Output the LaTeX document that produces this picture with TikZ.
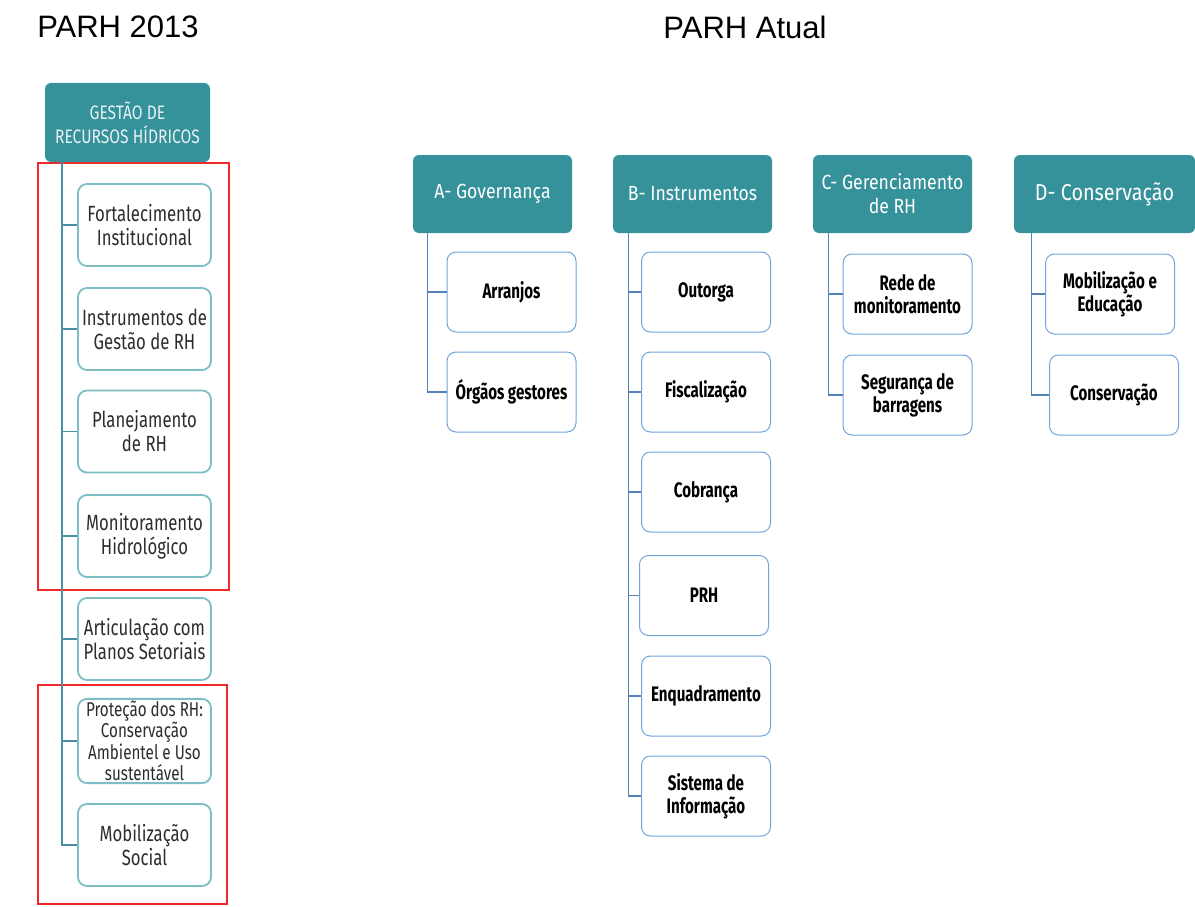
\documentclass[tikz,border=0pt]{standalone}
\usepackage{fontspec}
\setmainfont{Liberation Sans}
\newfontfamily\hdrfont[FakeStretch=0.86]{Fira Sans}
\newfontfamily\lhdrfont[FakeStretch=0.8]{Fira Sans}
\newfontfamily\lfont[FakeStretch=0.76]{Fira Sans}
\newfontfamily\condb[FakeStretch=0.72]{Fira Sans}
\definecolor{teal}{RGB}{53,145,154}
\definecolor{lborder}{RGB}{125,190,197}
\definecolor{lline}{RGB}{70,145,165}
\definecolor{rborder}{RGB}{115,165,220}
\definecolor{rline}{RGB}{85,130,185}
\definecolor{redbox}{RGB}{240,40,40}
\definecolor{txtgray}{RGB}{45,45,45}
\tikzset{
  title/.style={font=\fontsize{31}{33}\selectfont, text=black, inner sep=0pt},
  hdr/.style={fill=teal, rounded corners=6pt, text=white, align=center,
    font=\hdrfont\fontsize{20.5}{24}\selectfont, minimum width=159pt, minimum height=78pt, inner sep=2pt},
  lhdr/.style={fill=teal, rounded corners=6pt, text=white!88!teal, align=center,
    font=\lhdrfont\fontsize{19.5}{24}\selectfont, minimum width=165pt, minimum height=79pt, inner sep=2pt},
  lbox/.style={draw=lborder, line width=1.8pt, rounded corners=9pt, fill=white,
    minimum width=133pt, minimum height=82pt, align=center, text=txtgray,
    font=\lfont\fontsize{22}{24}\selectfont, inner sep=2pt},
  rbox/.style={draw=rborder, line width=1pt, rounded corners=9pt, fill=white,
    minimum width=129pt, minimum height=80pt, align=center, text=black,
    font=\condb\bfseries\fontsize{21}{23}\selectfont, inner sep=2pt},
  lconn/.style={draw=lline, line width=1.5pt},
  rconn/.style={draw=rline, line width=1.2pt},
  redframe/.style={draw=redbox, line width=1.6pt},
}
\begin{document}
\begin{tikzpicture}[x=1pt,y=-1pt]
\useasboundingbox (0,0) rectangle (1195,907);
% titles
\node[title] (t1) at (118,27) {PARH 2013};
\node[title] (t2) at (745,27) {PARH Atual};
% red frames
\draw[redframe] (38,163) rectangle (229,590);
\draw[redframe] (38,685) rectangle (227,904);
% left column
\node[lhdr] (G) at (127.5,122.5) {GESTÃO DE\\RECURSOS HÍDRICOS};
\node[lbox] (l1) at (144.5,225) {Fortalecimento\\Institucional};
\node[lbox] (l2) at (144.5,329) {Instrumentos de\\Gestão de RH};
\node[lbox] (l3) at (144.5,431.5) {Planejamento\\de RH};
\node[lbox] (l4) at (144.5,536) {Monitoramento\\Hidrológico};
\node[lbox] (l5) at (144.5,639) {Articulação com\\Planos Setoriais};
\node[lbox, font=\lfont\fontsize{20}{21.5}\selectfont] (l6) at (144.5,741) {Proteção dos RH:\\Conservação\\Ambientel e Uso\\sustentável};
\node[lbox] (l7) at (144.5,845) {Mobilização\\Social};
\foreach \n in {l1,l2,l3,l4,l5,l6,l7}{
  \draw[lconn] ([xshift=17pt]G.south west) |- (\n.west);
}
% right headers
\node[hdr] (A) at (492.5,194) {A- Governança};
\node[hdr] (B) at (692.5,194) {B- Instrumentos};
\node[hdr] (C) at (892.5,194) {C- Gerenciamento\\de RH};
\node[hdr, minimum width=181pt, font=\hdrfont\fontsize{23}{26}\selectfont] (D) at (1104.5,194) {D- Conservação};
% A children
\node[rbox] (a1) at (511.5,292) {Arranjos};
\node[rbox] (a2) at (511.5,392) {Órgãos gestores};
% B children
\node[rbox] (b1) at (706,292) {Outorga};
\node[rbox] (b2) at (706,392) {Fiscalização};
\node[rbox] (b3) at (706,492) {Cobrança};
\node[rbox] (b4) at (704,595.5) {PRH};
\node[rbox] (b5) at (706,696) {Enquadramento};
\node[rbox] (b6) at (706,796) {Sistema de\\Informação};
% C children
\node[rbox] (c1) at (907.5,294) {Rede de\\monitoramento};
\node[rbox] (c2) at (907.5,395) {Segurança de\\barragens};
% D children
\node[rbox] (d1) at (1110,294) {Mobilização e\\Educação};
\node[rbox] (d2) at (1114,395) {Conservação};
% connectors
\foreach \n in {a1,a2}{\draw[rconn] ([xshift=15pt]A.south west) |- (\n.west);}
\foreach \n in {b1,b2,b3,b4,b5,b6}{\draw[rconn] ([xshift=16pt]B.south west) |- (\n.west);}
\foreach \n in {c1,c2}{\draw[rconn] ([xshift=16pt]C.south west) |- (\n.west);}
\foreach \n in {d1,d2}{\draw[rconn] ([xshift=18pt]D.south west) |- (\n.west);}
\end{tikzpicture}
\end{document}
